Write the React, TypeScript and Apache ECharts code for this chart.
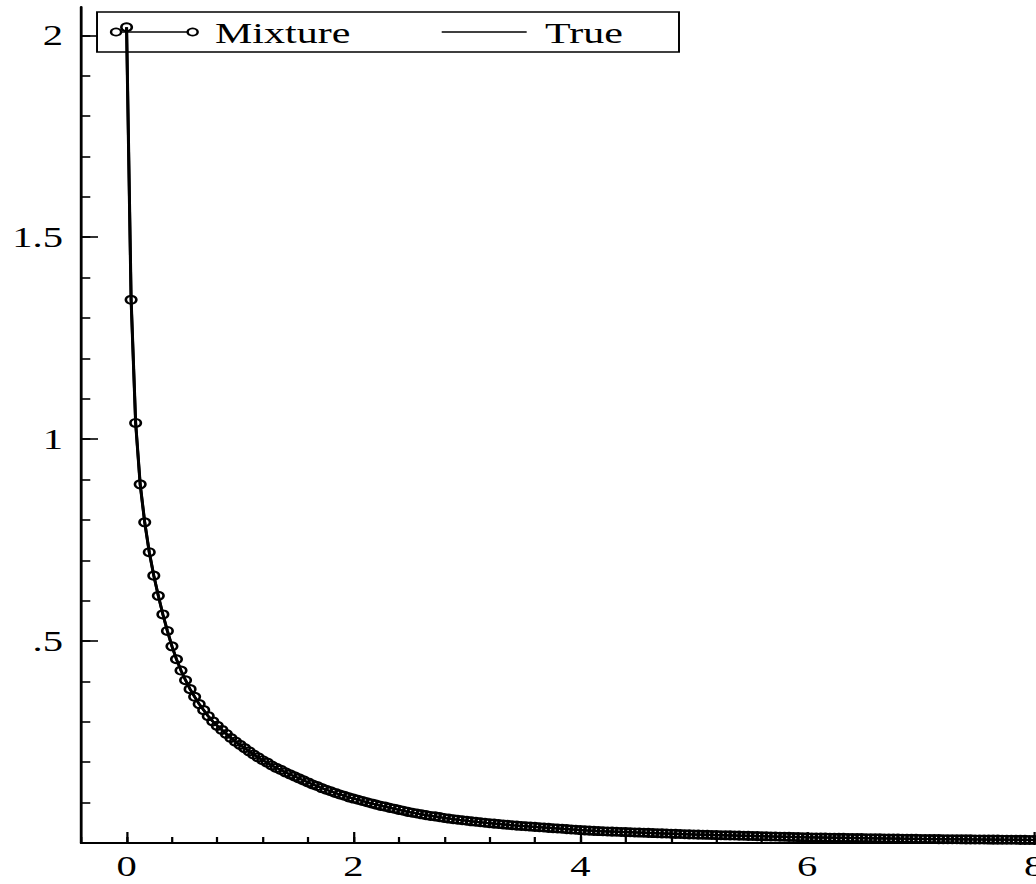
import React, { useEffect, useRef } from "react";
import * as echarts from "echarts";

// Density at x = 0, 0.04, 0.08, ... 8
const trueValues = [
  2.02,
  1.345, 1.04, 0.888, 0.794, 0.72,
  0.662, 0.612, 0.566, 0.525, 0.487,
  0.455, 0.427, 0.403, 0.381, 0.362,
  0.344, 0.329, 0.314, 0.301, 0.29,
  0.28, 0.27, 0.26, 0.251, 0.243,
  0.235, 0.227, 0.219, 0.212, 0.205,
  0.199, 0.192, 0.186, 0.181, 0.175,
  0.17, 0.165, 0.16, 0.155, 0.15,
  0.145, 0.141, 0.136, 0.132, 0.128,
  0.124, 0.12, 0.117, 0.113, 0.11,
  0.107, 0.104, 0.101, 0.098, 0.095,
  0.092, 0.09, 0.087, 0.085, 0.082,
  0.08, 0.077, 0.075, 0.073, 0.071,
  0.069, 0.067, 0.066, 0.064, 0.062,
  0.0605, 0.059, 0.0576, 0.0563, 0.055,
  0.0537, 0.0525, 0.0513, 0.0501, 0.049,
  0.048, 0.047, 0.046, 0.045, 0.044,
  0.0431, 0.0423, 0.0415, 0.0407, 0.04,
  0.0391, 0.0383, 0.0375, 0.0367, 0.036,
  0.0352, 0.0344, 0.0336, 0.0328, 0.032,
  0.0313, 0.0307, 0.0301, 0.0295, 0.029,
  0.0286, 0.0282, 0.0278, 0.0274, 0.027,
  0.0266, 0.0262, 0.0258, 0.0254, 0.025,
  0.0246, 0.0242, 0.0238, 0.0234, 0.023,
  0.0226, 0.0222, 0.0218, 0.0214, 0.021,
  0.0207, 0.0204, 0.0202, 0.0199, 0.0196,
  0.0193, 0.019, 0.0188, 0.0185, 0.0182,
  0.0179, 0.0176, 0.0174, 0.0171, 0.0168,
  0.0165, 0.0162, 0.016, 0.0157, 0.0154,
  0.0151, 0.0148, 0.0146, 0.0143, 0.014,
  0.0138, 0.0137, 0.0135, 0.0134, 0.0132,
  0.013, 0.0129, 0.0127, 0.0126, 0.0124,
  0.0122, 0.0121, 0.0119, 0.0118, 0.0116,
  0.0114, 0.0113, 0.0111, 0.011, 0.0108,
  0.0106, 0.0105, 0.0103, 0.0102, 0.01,
  0.0099, 0.0098, 0.0097, 0.0096, 0.0095,
  0.0094, 0.0093, 0.0092, 0.0091, 0.009,
  0.0089, 0.0088, 0.0087, 0.0086, 0.0085,
  0.0084, 0.0083, 0.0082, 0.0081, 0.008,
  0.0079, 0.0078, 0.0077, 0.0076, 0.0075,
];

// The mixture estimate is indistinguishable from the true density in the picture
const mixtureValues = trueValues;

const xStep = 0.04;
const xMin = -0.4;
const xMax = 8;
const yMin = 0;
const yMax = 2.07;

const xMajorTicks = [0, 2, 4, 6, 8];
const yMajorTicks = [0.5, 1, 1.5, 2];
const yMinorTicks = [
  0.1, 0.2, 0.3, 0.4, 0.5, 0.6, 0.7, 0.8, 0.9, 1.0,
  1.1, 1.2, 1.3, 1.4, 1.5, 1.6, 1.7, 1.8, 1.9, 2.0,
];
const yTickLabels: Record<string, string> = {
  "0.5": ".5",
  "1": "1",
  "1.5": "1.5",
  "2": "2",
};

const seriesNames = ["Mixture", "True"];

const FONT = "'Liberation Serif', 'Times New Roman', serif";
const STRETCH = 1.4;
const CHART_W = 740;
const CHART_H = 884;

export default function App() {
  const ref = useRef<HTMLDivElement>(null);

  useEffect(() => {
    if (!ref.current) return;
    const chart = echarts.init(ref.current, null, { renderer: "svg" });

    const xGrid = trueValues.map((_, i) => +(i * xStep).toFixed(2));
    const trueData = xGrid.map((x, i) => [x, trueValues[i]]);
    const mixData = xGrid.map((x, i) => [x, mixtureValues[i]]);

    const gridBox = {
      left: 58,
      right: 1.4,
      top: 7,
      bottom: 41,
      containLabel: false,
      outerBoundsMode: "none",
    };

    const legendY = 32;

    chart.setOption({
      animation: false,
      backgroundColor: "#fff",
      grid: [{ ...gridBox }, { ...gridBox }],
      xAxis: [
        {
          type: "value",
          gridIndex: 0,
          min: xMin,
          max: xMax,
          interval: 0.4,
          axisLine: { show: true, onZero: false, lineStyle: { color: "#000", width: 2 } },
          axisTick: { show: true, inside: true, length: 6, lineStyle: { color: "#000", width: 1.6 } },
          axisLabel: { show: false },
          splitLine: { show: false },
        },
        {
          type: "value",
          gridIndex: 1,
          min: xMin,
          max: xMax,
          interval: 0.4,
          axisLine: { show: false, onZero: false },
          axisTick: {
            show: true,
            inside: true,
            length: 11,
            customValues: xMajorTicks,
            lineStyle: { color: "#000", width: 1.6 },
          },
          axisLabel: {
            show: true,
            customValues: xMajorTicks,
            margin: 9,
            color: "#000",
            fontSize: 29,
            fontFamily: FONT,
            formatter: (v: number) => String(v),
          },
          splitLine: { show: false },
        },
      ],
      yAxis: [
        {
          type: "value",
          gridIndex: 0,
          min: yMin,
          max: yMax,
          axisLine: { show: true, onZero: false, lineStyle: { color: "#000", width: 2 } },
          axisTick: {
            show: true,
            inside: true,
            length: 6.5,
            customValues: yMinorTicks,
            lineStyle: { color: "#000", width: 1.6 },
          },
          axisLabel: { show: false },
          splitLine: { show: false },
        },
        {
          type: "value",
          gridIndex: 1,
          min: yMin,
          max: yMax,
          axisLine: { show: false, onZero: false },
          axisTick: {
            show: true,
            inside: true,
            length: 12,
            customValues: yMajorTicks,
            lineStyle: { color: "#000", width: 1.6 },
          },
          axisLabel: {
            show: true,
            customValues: yMajorTicks,
            margin: 13,
            color: "#000",
            fontSize: 29,
            fontFamily: FONT,
            formatter: (v: number) => yTickLabels[String(v)] ?? "",
          },
          splitLine: { show: false },
        },
      ],
      series: [
        {
          name: seriesNames[0],
          type: "line",
          xAxisIndex: 0,
          yAxisIndex: 0,
          data: mixData,
          showSymbol: true,
          showAllSymbol: true,
          symbol: "circle",
          symbolSize: [7.5, 8],
          itemStyle: { color: "rgba(0,0,0,0)", borderColor: "#000", borderWidth: 1.9 },
          lineStyle: { color: "#000", width: 2 },
          silent: true,
          clip: false,
          z: 3,
        },
        {
          name: seriesNames[1],
          type: "line",
          xAxisIndex: 0,
          yAxisIndex: 0,
          data: trueData,
          showSymbol: false,
          symbol: "none",
          lineStyle: { color: "#000", width: 2.2 },
          silent: true,
          clip: false,
          z: 4,
        },
      ],
      graphic: [
        {
          type: "rect",
          shape: { x: 69.3, y: 12, width: 415.7, height: 40 },
          style: { fill: "rgba(0,0,0,0)", stroke: "#000", lineWidth: 1.4 },
          silent: true,
        },
        {
          type: "line",
          shape: { x1: 82.9, y1: legendY, x2: 137.6, y2: legendY },
          style: { stroke: "#000", lineWidth: 1.4 },
          silent: true,
        },
        {
          type: "circle",
          shape: { cx: 82.9, cy: legendY, r: 3.6 },
          style: { fill: "#fff", stroke: "#000", lineWidth: 1.7 },
          silent: true,
        },
        {
          type: "circle",
          shape: { cx: 137.6, cy: legendY, r: 3.6 },
          style: { fill: "#fff", stroke: "#000", lineWidth: 1.7 },
          silent: true,
        },
        {
          type: "text",
          x: 153.6,
          y: legendY + 1,
          style: {
            text: seriesNames[0],
            fill: "#000",
            fontSize: 30,
            fontFamily: FONT,
            verticalAlign: "middle",
            align: "left",
          },
          silent: true,
        },
        {
          type: "line",
          shape: { x1: 315.5, y1: legendY, x2: 376.2, y2: legendY },
          style: { stroke: "#000", lineWidth: 1.4 },
          silent: true,
        },
        {
          type: "text",
          x: 389.3,
          y: legendY + 1,
          style: {
            text: seriesNames[1],
            fill: "#000",
            fontSize: 30,
            fontFamily: FONT,
            verticalAlign: "middle",
            align: "left",
          },
          silent: true,
        },
      ],
    });

    return () => {
      chart.dispose();
    };
  }, []);

  return (
    <div
      style={{
        position: "fixed",
        left: 0,
        top: 0,
        width: 1036,
        height: 884,
        overflow: "hidden",
        background: "#fff",
      }}
    >
      <div
        ref={ref}
        style={{
          width: CHART_W,
          height: CHART_H,
          transform: `scaleX(${STRETCH})`,
          transformOrigin: "0 0",
        }}
      />
    </div>
  );
}
